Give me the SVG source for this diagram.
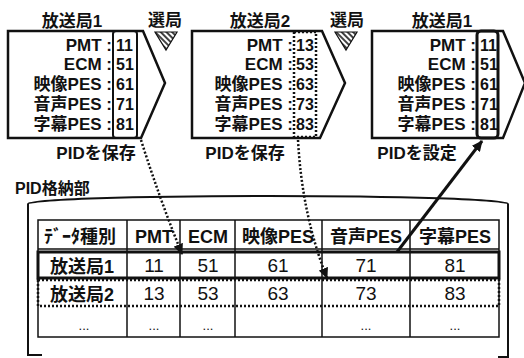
<svg xmlns="http://www.w3.org/2000/svg" width="524" height="358" viewBox="0 0 524 358">
<style>
.t{font-family:"Liberation Sans","Noto Sans CJK JP",sans-serif;fill:#111}
.b{font-weight:bold}
.ttl{font-size:17px;font-weight:bold;text-anchor:middle}
.lb{font-size:17px;font-weight:bold;text-anchor:end}
.vl{font-size:16px;font-weight:bold}
.tb{font-size:19px;text-anchor:middle}
.th{font-size:18px;font-weight:bold;text-anchor:middle}
.dots{font-size:13px;text-anchor:middle}
.ln{fill:none;stroke:#111}
.box{fill:none;stroke:#111;stroke-width:2.5;stroke-linejoin:miter}
.dot{fill:none;stroke:#111;stroke-width:2.5;stroke-dasharray:2 2}
</style>
<defs>
<pattern id="hatch" patternUnits="userSpaceOnUse" width="4" height="4" patternTransform="rotate(45)">
<line x1="0" y1="1" x2="4" y2="1" stroke="#111" stroke-width="1.6"/>
</pattern>
<marker id="ah" markerUnits="userSpaceOnUse" markerWidth="12" markerHeight="10" refX="10" refY="5" orient="auto">
<path d="M0,0 L11,5 L0,10 Z" fill="#111"/>
</marker>
</defs>
<rect width="524" height="358" fill="#fff"/>

<g id="box1">
<text class="t ttl" x="72" y="27">放送局1</text>
<path class="box" d="M8,31 H143 L165,83 L141,138 H8 Z"/>
<rect class="ln" x="113" y="31" width="24" height="107" rx="3" stroke-width="2"/>
<text class="t lb" x="112" y="51">PMT :</text>
<text class="t lb" x="112" y="70">ECM :</text>
<text class="t lb" x="112" y="90">映像PES :</text>
<text class="t lb" x="112" y="110">音声PES :</text>
<text class="t lb" x="112" y="130">字幕PES :</text>
<text class="t vl" x="116" y="51">11</text>
<text class="t vl" x="116" y="70">51</text>
<text class="t vl" x="116" y="90">61</text>
<text class="t vl" x="116" y="110">71</text>
<text class="t vl" x="116" y="130">81</text>
<text class="t ttl" x="96" y="159">PIDを保存</text>
</g>

<g id="select1">
<text class="t ttl" x="165" y="26">選局</text>
<path d="M155,32 H177 L166,50 Z" fill="url(#hatch)" stroke="#111" stroke-width="1.2"/>
</g>

<g id="box2">
<text class="t ttl" x="260" y="27">放送局2</text>
<path class="box" d="M192,31 H322 L345,83 L320,138 H192 Z"/>
<rect class="dot" x="294" y="32" width="22" height="105" stroke-width="2"/>
<text class="t lb" x="293" y="51">PMT :</text>
<text class="t lb" x="293" y="70">ECM :</text>
<text class="t lb" x="293" y="90">映像PES :</text>
<text class="t lb" x="293" y="110">音声PES :</text>
<text class="t lb" x="293" y="130">字幕PES :</text>
<text class="t vl" x="296" y="51">13</text>
<text class="t vl" x="296" y="70">53</text>
<text class="t vl" x="296" y="90">63</text>
<text class="t vl" x="296" y="110">73</text>
<text class="t vl" x="296" y="130">83</text>
<text class="t ttl" x="245" y="159">PIDを保存</text>
</g>

<g id="select2">
<text class="t ttl" x="347" y="26">選局</text>
<path d="M335,32 H357 L346,50 Z" fill="url(#hatch)" stroke="#111" stroke-width="1.2"/>
</g>

<g id="box3">
<text class="t ttl" x="442" y="27">放送局1</text>
<path class="box" d="M372,31 H503 L525,83 L503,138 H372 Z"/>
<rect class="ln" x="477" y="31" width="21" height="107" rx="4" stroke-width="3"/>
<text class="t lb" x="476" y="51">PMT :</text>
<text class="t lb" x="476" y="70">ECM :</text>
<text class="t lb" x="476" y="90">映像PES :</text>
<text class="t lb" x="476" y="110">音声PES :</text>
<text class="t lb" x="476" y="130">字幕PES :</text>
<text class="t vl" x="480" y="51">11</text>
<text class="t vl" x="480" y="70">51</text>
<text class="t vl" x="480" y="90">61</text>
<text class="t vl" x="480" y="110">71</text>
<text class="t vl" x="480" y="130">81</text>
<text class="t ttl" x="417" y="159">PIDを設定</text>
</g>

<g id="storage">
<text class="t b" x="15" y="194" font-size="16">PID格納部</text>
<path class="ln" stroke-width="2" d="M42,355 H28 V204 A240 8 0 0 1 508,204 V358"/>
<path class="ln" stroke-width="2" d="M498,357 H508"/>
<g class="ln" stroke-width="1.5">
<rect x="38" y="220" width="461" height="117"/>
<line x1="38" y1="249" x2="499" y2="249"/>
<line x1="127" y1="220" x2="127" y2="337"/>
<line x1="180" y1="220" x2="180" y2="337"/>
<line x1="235" y1="220" x2="235" y2="337"/>
<line x1="322" y1="220" x2="322" y2="337"/>
<line x1="410" y1="220" x2="410" y2="337"/>
</g>
<rect class="ln" x="38" y="252" width="461" height="26" stroke-width="3"/>
<rect class="dot" x="38" y="280" width="461" height="26"/>
<text class="t th" x="80" y="243">ﾃﾞｰﾀ種別</text>
<text class="t th" x="154" y="243">PMT</text>
<text class="t th" x="208" y="243">ECM</text>
<text class="t th" x="278" y="243">映像PES</text>
<text class="t th" x="366" y="243">音声PES</text>
<text class="t th" x="455" y="243">字幕PES</text>
<text class="t th" x="82" y="273">放送局1</text>
<text class="t tb" x="154" y="272">11</text>
<text class="t tb" x="208" y="272">51</text>
<text class="t tb" x="278" y="272">61</text>
<text class="t tb" x="366" y="272">71</text>
<text class="t tb" x="455" y="272">81</text>
<text class="t th" x="82" y="301">放送局2</text>
<text class="t tb" x="154" y="300">13</text>
<text class="t tb" x="208" y="300">53</text>
<text class="t tb" x="278" y="300">63</text>
<text class="t tb" x="366" y="300">73</text>
<text class="t tb" x="455" y="300">83</text>
<text class="t dots" x="84" y="330">...</text>
<text class="t dots" x="154" y="330">...</text>
<text class="t dots" x="208" y="330">...</text>
<text class="t dots" x="366" y="330">...</text>
<text class="t dots" x="455" y="330">...</text>
</g>

<g id="connectors">
<path class="dot" d="M141,140 Q160,200 182,254" marker-end="url(#ah)"/>
<path class="dot" d="M298,140 Q302,215 327,278" marker-end="url(#ah)"/>
<path class="ln" stroke-width="3" d="M397,252 L482,141" marker-end="url(#ah)"/>
</g>
</svg>
